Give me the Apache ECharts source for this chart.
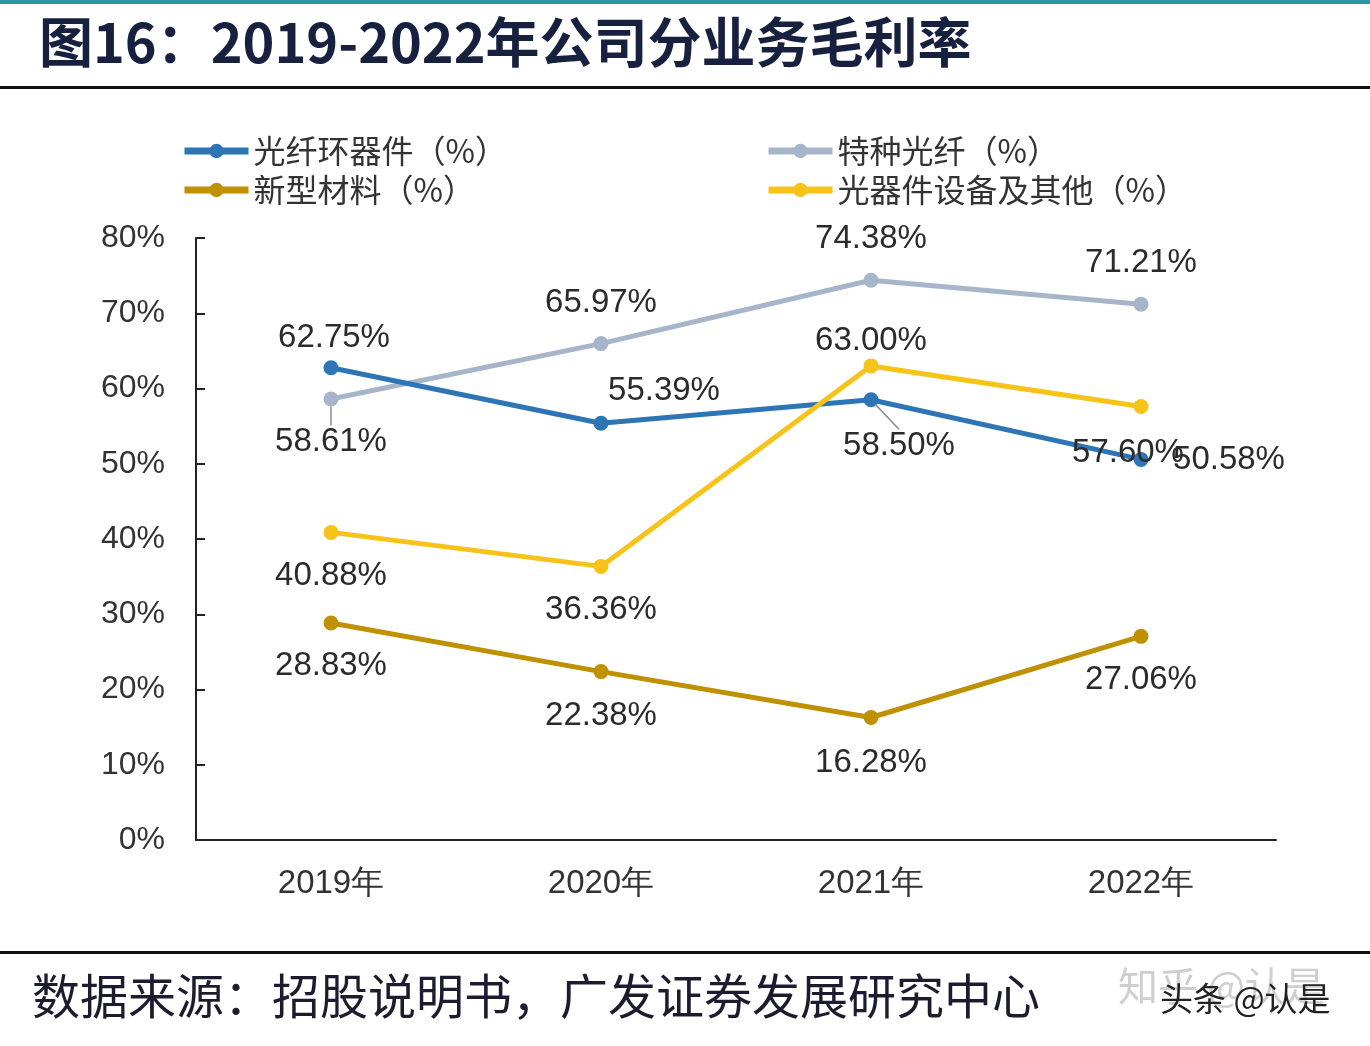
<!DOCTYPE html>
<html>
<head>
<meta charset="utf-8">
<script src="https://cdn.jsdelivr.net/npm/echarts@6/dist/echarts.min.js"></script>
<style>
html,body{margin:0;padding:0;background:#fff;}
#c{width:1370px;height:1046px;}
</style>
</head>
<body>
<div id="c"></div>
<script>
const categories = ['2019年', '2020年', '2021年', '2022年'];
const seriesNames = ['光纤环器件（%）', '特种光纤（%）', '新型材料（%）', '光器件设备及其他（%）'];
const fiberRing = [62.75, 55.39, 58.50, 50.58];
const specialFiber = [58.61, 65.97, 74.38, 71.21];
const newMaterial = [28.83, 22.38, 16.28, 27.06];
const opticalEquip = [40.88, 36.36, 63.00, 57.60];
const yTicks = [0, 10, 20, 30, 40, 50, 60, 70, 80];

const colors = ['#2e75b6', '#a7b5cb', '#bf9000', '#f7c318'];
// label offsets relative to point (layout only)
const labelOffsets = [
  [[3, -30], [63, -32], [28, 46], [88, 1]],
  [[0, 43], [0, -41], [0, -41], [0, -41]],
  [[0, 43], [0, 44], [0, 45], [0, 44]],
  [[0, 44], [0, 44], [0, -25], [-13, 46]]
];
// which labels have a guide line [series, index]
const guided = [[0, 2], [1, 0]];
const allData = [fiberRing, specialFiber, newMaterial, opticalEquip];

const labelFont = 'Liberation Sans, Arial, sans-serif';
const cjkFont = '"Noto Sans CJK SC", sans-serif';

const series = allData.map((arr, si) => ({
  name: seriesNames[si],
  type: 'line',
  data: arr.map((v, i) => {
    const item = { value: v };
    if (guided.some(g => g[0] === si && g[1] === i)) {
      item.labelLine = { show: true, lineStyle: { color: '#888', width: 1.5 } };
    }
    return item;
  }),
  z: si === 1 ? 1 : 2,
  symbol: 'circle',
  symbolSize: 15,
  lineStyle: { width: 5, color: colors[si] },
  itemStyle: { color: colors[si] },
  label: {
    show: true,
    position: 'inside',
    formatter: p => p.value.toFixed(2) + '%',
    fontSize: 33,
    fontFamily: labelFont,
    color: '#2b2b2b'
  },
  labelLayout: params => {
    const o = labelOffsets[si][params.dataIndex];
    return { dx: o[0], dy: o[1] };
  }
}));

const legendBase = {
  orient: 'vertical', top: 130, itemGap: 7,
  itemWidth: 64, itemHeight: 18,
  lineStyle: { width: 7 },
  textStyle: { fontSize: 32, color: '#333', fontFamily: cjkFont }
};

const chart = echarts.init(document.getElementById('c'));
chart.setOption({
  backgroundColor: '#ffffff',
  animation: false,
  title: {
    text: '图16：2019-2022年公司分业务毛利率',
    left: 34, top: 10,
    textStyle: { fontSize: 54, fontWeight: 'bold', color: '#18203f', fontFamily: cjkFont }
  },
  legend: [
    Object.assign({ data: [seriesNames[0], seriesNames[2]], left: 176 }, legendBase),
    Object.assign({ data: [seriesNames[1], seriesNames[3]], left: 760 }, legendBase)
  ],
  grid: { left: 196, right: 94, top: 238, bottom: 206, containLabel: false },
  xAxis: {
    type: 'category',
    data: categories,
    boundaryGap: true,
    axisLine: { lineStyle: { color: '#222', width: 2 } },
    axisTick: { show: false },
    axisLabel: { fontSize: 33, color: '#333', margin: 27, fontFamily: labelFont }
  },
  yAxis: {
    type: 'value',
    min: yTicks[0], max: yTicks[yTicks.length - 1], interval: 10,
    axisLine: { show: true, lineStyle: { color: '#222', width: 2 } },
    axisTick: { show: true, inside: true, length: 9, lineStyle: { color: '#222', width: 2 } },
    splitLine: { show: false },
    axisLabel: { formatter: '{value}%', fontSize: 32, color: '#333', margin: 31, fontFamily: labelFont }
  },
  series: series,
  graphic: [
    { type: 'rect', shape: { x: 0, y: 0, width: 1370, height: 4 }, style: { fill: '#2a97a6' } },
    { type: 'rect', shape: { x: 0, y: 86, width: 1370, height: 3 }, style: { fill: '#111' } },
    { type: 'rect', shape: { x: 0, y: 951, width: 1370, height: 3 }, style: { fill: '#111' } },
    { type: 'text', left: 32, top: 972, style: { text: '数据来源：招股说明书，广发证券发展研究中心', fontSize: 48, fill: '#1c1c2e', fontFamily: cjkFont } },
    { type: 'text', left: 1118, top: 966, style: { text: '知乎 @认是', fontSize: 40, fill: '#cfcfcf', fontFamily: cjkFont } },
    { type: 'text', left: 1160, top: 982, style: { text: '头条 @认是', fontSize: 33, fill: '#222', fontFamily: cjkFont } }
  ]
});
</script>
</body>
</html>
